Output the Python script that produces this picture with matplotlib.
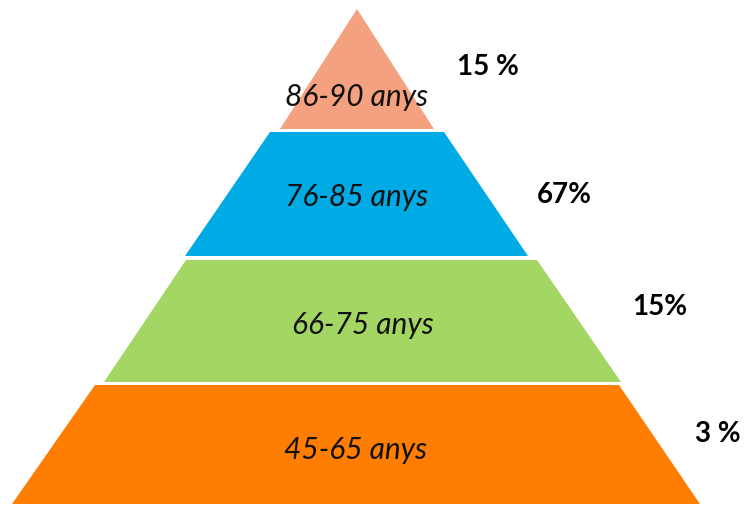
import matplotlib.pyplot as plt
from matplotlib.patches import Polygon

# data (top to bottom)
age_groups = ["86-90 anys", "76-85 anys", "66-75 anys", "45-65 anys"]
percent_labels = ["15 %", "67%", "15%", "3 %"]
colors = ["#F4A17F", "#00AAE5", "#A3D663", "#FF7D00"]

# layout of each layer in pixels: (y_top, y_bottom, top_left, top_right, bottom_left, bottom_right)
layers = [
    (9, 129, 357, 357, 280, 434),
    (132, 256, 270, 444, 185, 528),
    (260, 382, 186, 537, 104, 621),
    (385, 504, 95, 619, 12, 700),
]
label_y = [97, 197, 325, 450]
pct_pos = [(488, 67), (564, 195), (660, 307), (718, 434)]

FONT = ['Lato', 'DejaVu Sans']

fig = plt.figure(figsize=(7.49, 5.05), dpi=100)
ax = fig.add_axes([0, 0, 1, 1])
ax.set_xlim(0, 749)
ax.set_ylim(505, 0)
ax.axis('off')

for i, (yt, yb, tl, tr, bl, br) in enumerate(layers):
    poly = Polygon([(tl, yt), (tr, yt), (br, yb), (bl, yb)], closed=True,
                   facecolor=colors[i], edgecolor='none')
    ax.add_patch(poly)
    cx = (bl + br) / 2
    ax.text(cx, label_y[i], age_groups[i], ha='center', va='center',
            fontsize=21.5, style='italic', family=FONT, color='#111111')
    px, py = pct_pos[i]
    ax.text(px, py, percent_labels[i], ha='center', va='center',
            fontsize=20, weight='bold', family=FONT, color='black')

fig.savefig('out.png', dpi=100)
